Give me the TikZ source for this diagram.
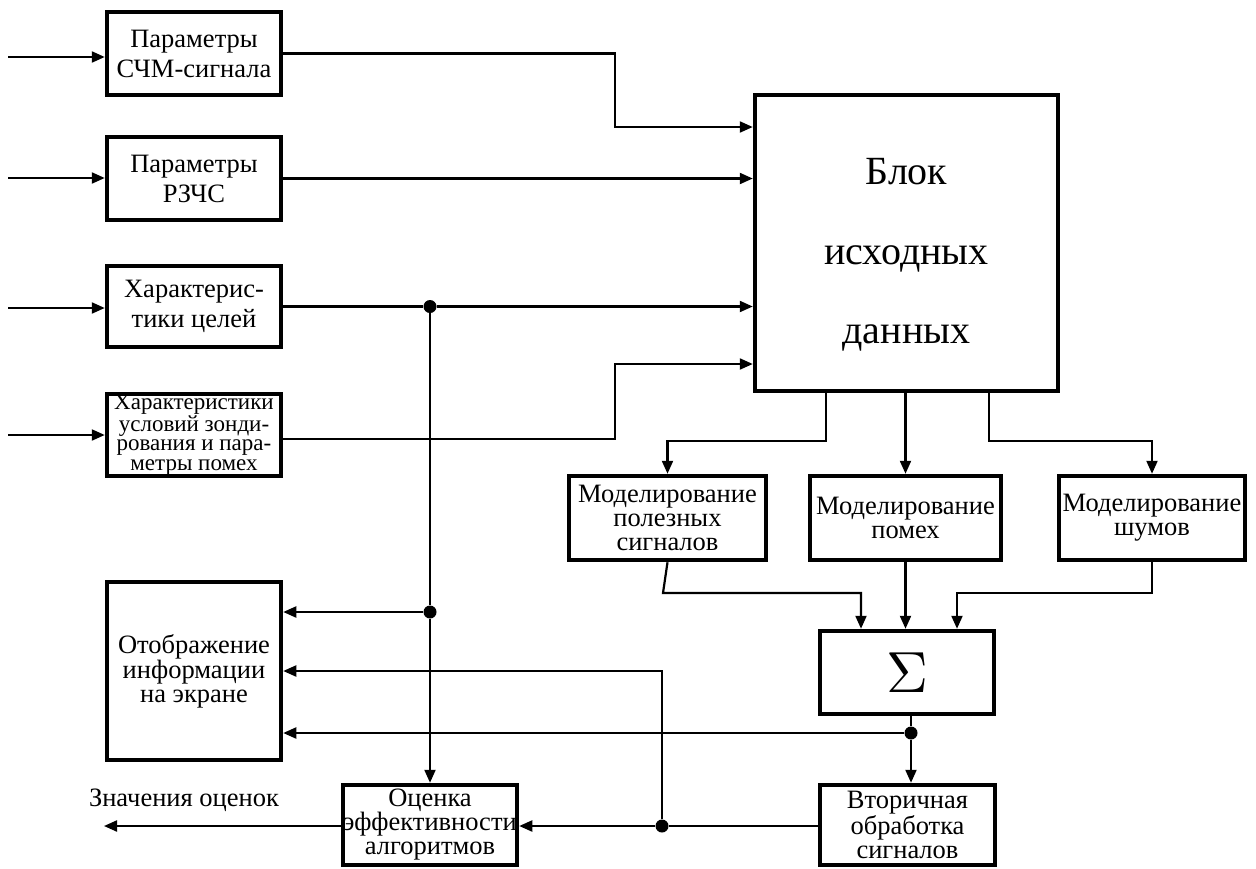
\documentclass[tikz,border=0pt]{standalone}
\usepackage{fontspec}
\setmainfont{Liberation Serif}
\usetikzlibrary{arrows.meta}
\begin{document}
\begin{tikzpicture}[x=1pt,y=-1pt,
  blk/.style={draw,line width=4.5pt,rectangle,inner sep=0pt,align=center},
  arr/.style={line width=2.2pt,-{Triangle[length=13pt,width=11pt]}},
  ln/.style={line width=2.2pt},
  dotc/.style={fill,circle,inner sep=0pt,minimum size=13pt},
  fA/.style={font=\fontsize{26.5}{30}\selectfont},
  fB/.style={font=\fontsize{26.5}{24}\selectfont},
  fC/.style={font=\fontsize{23}{19.5}\selectfont}]
\useasboundingbox (0,0) rectangle (1256,868);
% boxes
\node[blk,fA,minimum width=174pt,minimum height=83pt] (p1) at (194,53.5) {Параметры\\СЧМ-сигнала};
\node[blk,fA,minimum width=174pt,minimum height=83pt] (p2) at (194,178.5) {Параметры\\РЗЧС};
\node[blk,fA,minimum width=174pt,minimum height=81pt] (p3) at (194,306.5) {Характерис-\\тики целей};
\node[blk,fC,minimum width=174pt,minimum height=82pt] (p4) at (194,435) {Характеристики\\условий зонди-\\рования и пара-\\метры помех};
\node[blk,font=\fontsize{40}{79.5}\selectfont,minimum width=303pt,minimum height=296pt] (blok) at (906.5,243) {\rule{0pt}{50pt}Блок\\исходных\\данных};
\node[blk,fB,minimum width=197pt,minimum height=84pt] (mA) at (667.5,518) {Моделирование\\полезных\\сигналов};
\node[blk,fB,minimum width=191pt,minimum height=84pt] (mB) at (905.5,518) {Моделирование\\помех};
\node[blk,fB,minimum width=186pt,minimum height=84pt] (mC) at (1152,518) {Моделирование\\шумов};
\node[blk,minimum width=174pt,minimum height=83pt] (sum) at (907,672.5) {\scalebox{5.8}{$\Sigma$}};
\node[blk,fB,minimum width=174pt,minimum height=178pt] (disp) at (194,671) {Отображение\\информации\\на экране};
\node[blk,fB,minimum width=174pt,minimum height=80pt] (eval) at (430,825) {Оценка\\эффективности\\алгоритмов};
\node[blk,fB,minimum width=175pt,minimum height=80pt] (sec) at (907.5,825) {Вторичная\\обработка\\сигналов};
\node[font=\fontsize{26.5}{26.5}\selectfont] (lab) at (184,800) {Значения оценок};
% coordinates
\coordinate (in1) at (8,57);
\coordinate (in2) at (8,178);
\coordinate (in3) at (8,308);
\coordinate (in4) at (8,435);
\coordinate (c1) at (615,127);
\coordinate (c4) at (615,364);
\coordinate (b1) at (826,441);
\coordinate (b3) at (989,441);
\coordinate (s1) at (663,593);
\coordinate (s1t) at (861,593);
\coordinate (s3) at (1152,593);
\coordinate (s3t) at (957,593);
\coordinate (out) at (104,826);
\node[dotc] (j1) at (430,306.5) {};
\node[dotc] (j2) at (430,612) {};
\node[dotc] (j3) at (911,733) {};
\node[dotc] (j4) at (662,826) {};
% inputs
\draw[arr] (in1) -- (in1 -| p1.west);
\draw[arr] (in2) -- (in2 -| p2.west);
\draw[arr] (in3) -- (in3 -| p3.west);
\draw[arr] (in4) -- (in4 -| p4.west);
% to blok
\draw[arr] (p1.east) -| (c1) -- (c1 -| blok.west);
\draw[arr] (p2.east) -- (p2.east -| blok.west);
\draw[ln] (p3.east) -- (j1);
\draw[arr] (j1) -- (j1 -| blok.west);
\draw[arr] ([yshift=-4pt]p4.east) -| (c4) -- (c4 -| blok.west);
% blok to modelling
\draw[arr] (b1 |- blok.south) -- (b1) -| (mA.north);
\draw[arr] (blok.south -| mB.north) -- (mB.north);
\draw[arr] (b3 |- blok.south) -- (b3) -| (mC.north);
% modelling to sum
\draw[arr] (mA.south) -- (s1) -- (s1t) -- (s1t |- sum.north);
\draw[arr] (mB.south) -- (mB.south |- sum.north);
\draw[arr] (mC.south) -- (s3) -- (s3t) -- (s3t |- sum.north);
% sum to secondary
\draw[ln] (sum.south -| j3) -- (j3);
\draw[arr] (j3) -- (j3 |- sec.north);
\draw[arr] (j3) -- (j3 -| disp.east);
% vertical bus
\draw[ln] (j1) -- (j2);
\draw[arr] (j2) -- (eval.north);
\draw[arr] (j2) -- (j2 -| disp.east);
% secondary to eval
\draw[ln] (sec.west |- j4) -- (j4);
\draw[arr] (j4) -- (j4 -| eval.east);
\draw[arr] (j4) |- (disp.east);
\draw[arr] (eval.west |- out) -- (out);
\end{tikzpicture}
\end{document}
